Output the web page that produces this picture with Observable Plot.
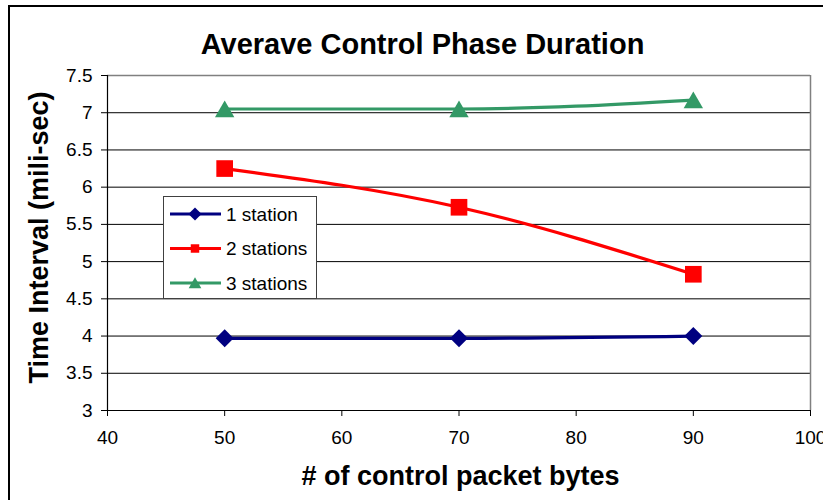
<!DOCTYPE html>
<html><head><meta charset="utf-8">
<script src="https://cdn.jsdelivr.net/npm/d3@7"></script>
<script src="https://cdn.jsdelivr.net/npm/@observablehq/plot@0.6"></script>
<style>
body{margin:0;background:#fff;font-family:"Liberation Sans",Arial,sans-serif;}
#wrap{position:relative;width:823px;height:500px;overflow:hidden;background:#fff;}
#border{position:absolute;left:8px;top:5px;width:900px;height:600px;border:2px solid #000;box-sizing:border-box;pointer-events:none;}
#legend{position:absolute;left:163px;top:196px;width:154px;height:103px;border:1px solid #404040;background:#fff;box-sizing:border-box;}
</style></head><body><div id="wrap"><div id="border"></div></div>
<script>
const bytes = [50, 70, 90];
const oneStation = [3.97, 3.97, 4.00];
const twoStations = [6.25, 5.73, 4.83];
const threeStations = [7.05, 7.05, 7.17];
const seriesNames = ["1 station", "2 stations", "3 stations"];
const seriesColors = ["#000080", "#ff0000", "#339966"];
const xTicks = [40, 50, 60, 70, 80, 90, 100];
const yTicks = [3, 3.5, 4, 4.5, 5, 5.5, 6, 6.5, 7, 7.5];
const titleText = "Averave Control Phase Duration";
const xLabel = "# of control packet bytes";
const yLabel = "Time Interval (mili-sec)";

const seriesValues = [oneStation, twoStations, threeStations];
const rows = seriesNames.flatMap((s, i) => bytes.map((b, j) => ({x: b, y: seriesValues[i][j], series: s})));
const font = "Liberation Sans, Arial, sans-serif";

const markerOpts = {
  "1 station": {symbol: "diamond2", r: 8.1, dy: 0},
  "2 stations": {symbol: "square", r: 9.4, dy: 0},
  "3 stations": {symbol: "triangle", r: 7.2, dy: 2.7}
};

const chart = Plot.plot({
  width: 823, height: 500,
  marginLeft: 107, marginRight: 13, marginTop: 75, marginBottom: 90,
  style: {fontFamily: font, color: "#000", background: "transparent", overflow: "visible"},
  x: {domain: [40, 100]},
  y: {domain: [3, 7.5]},
  marks: [
    Plot.ruleY(yTicks.filter(d => d > 3 && d < 7.5), {stroke: "#000", strokeWidth: 1}),
    Plot.ruleY([7.5], {stroke: "#808080", strokeWidth: 1.5}),
    Plot.ruleX([100], {stroke: "#808080", strokeWidth: 1.5}),
    Plot.axisX({ticks: xTicks, tickSize: 6, tickPadding: 14, fontSize: 19, label: null, stroke: "#000", tickFormat: d => String(d)}),
    Plot.axisY({ticks: yTicks, tickSize: 6, tickPadding: 9, fontSize: 19, label: null, stroke: "#000", tickFormat: d => String(d)}),
    Plot.ruleY([3], {stroke: "#000", strokeWidth: 1.2}),
    Plot.ruleX([40], {stroke: "#000", strokeWidth: 1.2}),
    ...seriesNames.map((s, i) => Plot.line(rows.filter(d => d.series === s), {
      x: "x", y: "y", stroke: seriesColors[i], strokeWidth: 3.2, curve: "monotone-x"
    })),
    ...seriesNames.map((s, i) => Plot.dot(rows.filter(d => d.series === s), {
      x: "x", y: "y", symbol: () => markerOpts[s].symbol, r: markerOpts[s].r, dy: markerOpts[s].dy,
      fill: seriesColors[i], stroke: "none"
    })),
    Plot.text([titleText], {frameAnchor: "top", textAnchor: "middle", lineAnchor: "bottom", dy: -22, dx: -36.5, fontSize: 29, fontWeight: "bold", fontFamily: font, fill: "#000"}),
    Plot.text([xLabel], {frameAnchor: "bottom", textAnchor: "middle", lineAnchor: "bottom", dy: 74, dx: 1.5, fontSize: 27, fontWeight: "bold", fontFamily: font, fill: "#000"}),
    Plot.text([yLabel], {frameAnchor: "left", textAnchor: "middle", lineAnchor: "bottom", rotate: -90, dx: -60, dy: -5.5, fontSize: 27, fontWeight: "bold", fontFamily: font, fill: "#000"})
  ]
});
chart.style.position = "absolute";
chart.style.left = "0px";
chart.style.top = "0px";
document.getElementById("wrap").appendChild(chart);

// legend
const legend = document.createElement("div");
legend.id = "legend";
document.getElementById("wrap").appendChild(legend);
const lsvg = d3.select(legend).append("svg").attr("width", 152).attr("height", 101);
const legendSym = {
  "1 station": {type: d3.symbolDiamond2, size: 110, dy: 0},
  "2 stations": {type: d3.symbolSquare, size: 72, dy: 0},
  "3 stations": {type: d3.symbolTriangle, size: 70, dy: 1.5}
};
seriesNames.forEach((s, i) => {
  const cy = 17 + i * 34.5;
  const g = lsvg.append("g");
  g.append("line").attr("x1", 6).attr("x2", 57).attr("y1", cy).attr("y2", cy)
    .attr("stroke", seriesColors[i]).attr("stroke-width", 3.2);
  g.append("path").attr("d", d3.symbol(legendSym[s].type, legendSym[s].size)())
    .attr("transform", `translate(31,${cy + legendSym[s].dy})`).attr("fill", seriesColors[i]);
  g.append("text").attr("x", 62).attr("y", cy).attr("dy", "0.35em")
    .attr("font-family", font).attr("font-size", 19).attr("fill", "#000").text(s);
});
</script>
</body></html>
